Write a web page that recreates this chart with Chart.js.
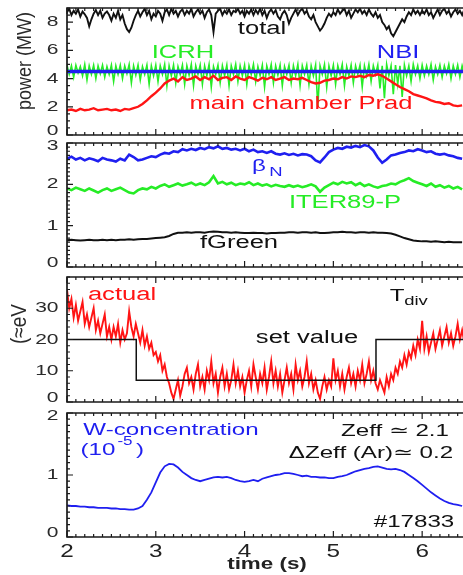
<!DOCTYPE html>
<html>
<head>
<meta charset="utf-8">
<script src="https://cdn.jsdelivr.net/npm/chart.js@4.4.1/dist/chart.umd.min.js"></script>
<style>
  html, body { margin: 0; padding: 0; background: #fff; }
  #wrap { position: relative; width: 463px; height: 575px; overflow: hidden; background: #fff; }
  #wrap canvas { position: absolute; left: 0; top: 0; }
</style>
</head>
<body>
<div id="wrap">
  <canvas id="c1" width="463" height="575"></canvas>
  <canvas id="c2" width="463" height="575"></canvas>
  <canvas id="c3" width="463" height="575"></canvas>
  <canvas id="c4" width="463" height="575"></canvas>
</div>
<script>
// coarse time base (s), one row = 0.5 s
const times = [
  2.00, 2.05, 2.10, 2.15, 2.20, 2.25, 2.30, 2.35, 2.40, 2.45,
  2.50, 2.55, 2.60, 2.65, 2.70, 2.75, 2.80, 2.85, 2.90, 2.95,
  3.00, 3.05, 3.10, 3.15, 3.20, 3.25, 3.30, 3.35, 3.40, 3.45,
  3.50, 3.55, 3.60, 3.65, 3.70, 3.75, 3.80, 3.85, 3.90, 3.95,
  4.00, 4.05, 4.10, 4.15, 4.20, 4.25, 4.30, 4.35, 4.40, 4.45,
  4.50, 4.55, 4.60, 4.65, 4.70, 4.75, 4.80, 4.85, 4.90, 4.95,
  5.00, 5.05, 5.10, 5.15, 5.20, 5.25, 5.30, 5.35, 5.40, 5.45,
  5.50, 5.55, 5.60, 5.65, 5.70, 5.75, 5.80, 5.85, 5.90, 5.95,
  6.00, 6.05, 6.10, 6.15, 6.20, 6.25, 6.30, 6.35, 6.40, 6.45
];
// fine time base (s) for the noisiest traces, one row = 0.5 s
const fineTimes = [
  2.000, 2.025, 2.050, 2.075, 2.100, 2.125, 2.150, 2.175, 2.200, 2.225, 2.250, 2.275, 2.300, 2.325, 2.350, 2.375, 2.400, 2.425, 2.450, 2.475,
  2.500, 2.525, 2.550, 2.575, 2.600, 2.625, 2.650, 2.675, 2.700, 2.725, 2.750, 2.775, 2.800, 2.825, 2.850, 2.875, 2.900, 2.925, 2.950, 2.975,
  3.000, 3.025, 3.050, 3.075, 3.100, 3.125, 3.150, 3.175, 3.200, 3.225, 3.250, 3.275, 3.300, 3.325, 3.350, 3.375, 3.400, 3.425, 3.450, 3.475,
  3.500, 3.525, 3.550, 3.575, 3.600, 3.625, 3.650, 3.675, 3.700, 3.725, 3.750, 3.775, 3.800, 3.825, 3.850, 3.875, 3.900, 3.925, 3.950, 3.975,
  4.000, 4.025, 4.050, 4.075, 4.100, 4.125, 4.150, 4.175, 4.200, 4.225, 4.250, 4.275, 4.300, 4.325, 4.350, 4.375, 4.400, 4.425, 4.450, 4.475,
  4.500, 4.525, 4.550, 4.575, 4.600, 4.625, 4.650, 4.675, 4.700, 4.725, 4.750, 4.775, 4.800, 4.825, 4.850, 4.875, 4.900, 4.925, 4.950, 4.975,
  5.000, 5.025, 5.050, 5.075, 5.100, 5.125, 5.150, 5.175, 5.200, 5.225, 5.250, 5.275, 5.300, 5.325, 5.350, 5.375, 5.400, 5.425, 5.450, 5.475,
  5.500, 5.525, 5.550, 5.575, 5.600, 5.625, 5.650, 5.675, 5.700, 5.725, 5.750, 5.775, 5.800, 5.825, 5.850, 5.875, 5.900, 5.925, 5.950, 5.975,
  6.000, 6.025, 6.050, 6.075, 6.100, 6.125, 6.150, 6.175, 6.200, 6.225, 6.250, 6.275, 6.300, 6.325, 6.350, 6.375, 6.400, 6.425, 6.450, 6.475
];

// panel 1: power (MW)
const totalPower = [
  8.7, 8.95, 8.5, 8.8, 8.6, 8.9, 8.4, 8.75, 8.55, 8.3, 7.7, 8.2, 8.6, 8.85, 8.5, 8.8, 8.3, 8.6, 8.75, 8.5,
  8.1, 8.6, 8.3, 8.8, 8.2, 8.5, 7.9, 7.5, 7.3, 7.6, 8.1, 8.5, 8.8, 8.4, 8.7, 8.95, 8.5, 8.8, 8.2, 8.6,
  8.4, 8.8, 8.6, 8.1, 8.7, 8.9, 8.5, 8.95, 8.6, 8.8, 8.4, 8.75, 8.9, 8.5, 8.8, 8.6, 8.95, 8.4, 8.7, 8.9,
  8.6, 8.8, 8.3, 8.7, 8.9, 8.5, 7.3, 8.6, 8.8, 8.95, 8.5, 8.8, 8.6, 8.9, 8.5, 8.8, 8.7, 8.95, 8.6, 8.8,
  8.4, 8.8, 8.6, 8.9, 8.5, 8.85, 8.6, 8.95, 8.5, 8.8, 8.3, 8.7, 8.9, 8.6, 8.85, 8.4, 8.2, 8.6, 8.8, 8.5,
  7.9, 8.3, 8.6, 8.9, 8.5, 8.8, 8.95, 8.6, 8.8, 8.4, 8.2, 8.5, 8.0, 7.7, 7.4, 7.6, 7.9, 8.3, 8.6, 8.4,
  8.7, 8.5, 8.9, 8.6, 8.8, 8.95, 8.5, 8.8, 8.3, 8.6, 8.9, 8.7, 8.95, 8.6, 8.8, 8.5, 8.9, 8.6, 8.4, 8.7,
  8.3, 8.5, 8.0, 7.8, 7.5, 7.7, 7.2, 7.0, 7.3, 7.6, 7.9, 8.2, 8.0, 8.4, 8.7, 8.5, 8.9, 8.6, 8.8, 8.5,
  8.8, 8.6, 8.9, 8.5, 8.7, 8.3, 8.6, 8.9, 8.5, 8.8, 8.95, 8.6, 8.8, 8.4, 8.7, 8.9, 8.6, 8.8, 8.5, 8.9
];
const icrhPower = [
  4.95, 4.3, 4.9, 4.1, 4.95, 4.4, 4.85, 4.2, 5.0, 3.9, 4.9, 4.3, 4.95, 4.0, 4.9, 4.35, 4.95, 4.1, 4.85, 4.3,
  4.95, 3.8, 4.9, 4.3, 4.95, 4.0, 4.9, 4.35, 5.0, 3.7, 4.9, 4.25, 4.95, 3.9, 4.85, 4.3, 4.95, 3.6, 4.9, 4.2,
  4.95, 3.8, 4.9, 4.3, 5.0, 3.5, 4.9, 4.2, 4.95, 3.7, 4.85, 4.3, 4.95, 3.6, 4.9, 4.25, 5.0, 3.5, 4.9, 4.3,
  4.95, 3.6, 4.9, 4.2, 5.0, 3.4, 4.85, 4.3, 4.95, 3.7, 4.9, 4.2, 4.95, 3.5, 4.9, 4.3, 5.0, 3.8, 4.9, 4.2,
  4.95, 3.6, 4.9, 4.3, 5.0, 3.8, 4.85, 4.2, 4.95, 3.4, 4.9, 4.3, 5.0, 3.7, 4.9, 4.25, 4.95, 3.5, 4.85, 4.3,
  4.95, 3.7, 4.9, 4.2, 5.0, 3.5, 4.9, 4.3, 4.95, 3.6, 4.9, 4.2, 4.95, 2.0, 4.9, 4.3, 5.0, 3.4, 4.9, 4.2,
  4.95, 3.6, 4.9, 4.3, 5.0, 3.5, 4.85, 4.2, 4.95, 3.7, 4.9, 4.3, 4.95, 3.4, 4.9, 4.2, 5.0, 3.8, 4.9, 4.3,
  4.95, 3.3, 4.9, 2.6, 5.0, 4.2, 4.9, 2.9, 4.95, 3.6, 4.9, 2.7, 4.95, 4.2, 4.9, 3.8, 5.0, 4.3, 4.9, 4.0,
  4.95, 4.2, 4.9, 4.3, 5.0, 3.9, 4.85, 4.3, 4.95, 4.1, 4.9, 4.35, 5.0, 4.0, 4.9, 4.3, 4.95, 4.1, 4.9, 4.3
];
const nbiTimes = [2.0, 6.46];
const nbiPower = [4.5, 4.5];
const pradPower = [
  1.75, 1.8, 1.7, 1.85, 1.75, 1.8, 1.9, 1.75, 1.8, 1.85,
  1.75, 1.8, 1.7, 1.85, 1.8, 1.9, 2.0, 2.2, 2.45, 2.75,
  3.0, 3.3, 3.65, 3.85, 4.0, 3.8, 4.1, 3.9, 4.0, 4.15,
  3.9, 4.1, 3.95, 4.2, 3.9, 4.05, 4.1, 3.9, 4.15, 4.0,
  3.9, 4.1, 4.0, 3.85, 4.05, 3.95, 4.1, 3.9, 4.0, 4.1,
  3.9, 4.0, 3.95, 4.05, 3.9, 3.75, 3.65, 3.7, 3.85, 3.9,
  4.0, 3.95, 4.1, 4.0, 4.15, 4.1, 4.2, 4.1, 4.25, 4.2,
  4.3, 4.2, 4.0, 3.8, 3.6, 3.4, 3.25, 3.1, 2.9, 2.8,
  2.7, 2.6, 2.45, 2.35, 2.3, 2.2, 2.25, 2.1, 2.05, 2.1
];

// panel 2: beta_N, ITER89-P, fGreen
const betaN = [
  2.62, 2.67, 2.6, 2.64, 2.58, 2.63, 2.6, 2.56, 2.64, 2.6,
  2.58, 2.55, 2.62, 2.58, 2.72, 2.66, 2.58, 2.6, 2.64, 2.68,
  2.66, 2.72, 2.76, 2.74, 2.8, 2.78, 2.85, 2.82, 2.86, 2.83,
  2.88, 2.85, 2.9, 2.87, 2.92, 2.86, 2.88, 2.84, 2.86, 2.82,
  2.86, 2.8, 2.84, 2.78, 2.8, 2.76, 2.8, 2.74, 2.72, 2.75,
  2.71, 2.74, 2.7, 2.73, 2.72, 2.68, 2.58, 2.53, 2.65, 2.78,
  2.84, 2.88, 2.86, 2.91, 2.89, 2.93, 2.9, 2.95, 2.92, 2.82,
  2.65, 2.52, 2.6, 2.7, 2.72, 2.76, 2.78, 2.82, 2.8, 2.85,
  2.82, 2.78, 2.8, 2.74, 2.72, 2.74, 2.7, 2.68, 2.64, 2.62
];
const iter89P = [
  1.9, 1.86, 1.92, 1.88, 1.84, 1.9, 1.85, 1.8, 1.86, 1.9,
  1.84, 1.88, 1.92, 1.86, 1.8, 1.78, 1.86, 1.9, 1.88, 1.94,
  1.9, 1.96, 2.0, 1.94, 1.98, 2.02, 1.97, 2.0, 2.04, 1.98,
  2.02, 1.98, 2.05, 2.2, 2.02, 2.06, 2.0, 2.04, 1.98, 2.02,
  2.0, 2.05, 1.98, 2.02, 1.97, 2.0, 1.95, 1.99, 1.96, 1.94,
  1.98, 1.94, 1.97, 1.93, 1.96, 2.0, 1.95, 1.82, 1.92, 1.98,
  2.04, 2.0, 2.06, 2.02, 2.05, 1.98, 2.03, 1.96, 2.0, 1.95,
  1.92, 1.96, 1.98, 2.02, 2.0, 2.06, 2.1, 2.15, 2.08, 2.04,
  2.0, 1.96, 2.02, 1.94, 1.98, 1.92, 1.96, 1.9, 1.94, 1.88
];
const fGreen = [
  0.65, 0.66, 0.65, 0.64, 0.65, 0.66, 0.65, 0.65, 0.66, 0.65,
  0.66, 0.65, 0.66, 0.66, 0.67, 0.66, 0.67, 0.68, 0.68, 0.69,
  0.7, 0.71, 0.72, 0.75, 0.8, 0.83, 0.83, 0.84, 0.83, 0.84,
  0.84, 0.83, 0.85, 0.86, 0.85, 0.84, 0.84, 0.83, 0.84, 0.83,
  0.82, 0.82, 0.83, 0.82, 0.82, 0.81, 0.82, 0.82, 0.83, 0.83,
  0.84, 0.84, 0.83, 0.84, 0.84, 0.83, 0.84, 0.82, 0.82, 0.83,
  0.84, 0.84, 0.85, 0.84, 0.84, 0.83, 0.84, 0.84, 0.83, 0.84,
  0.83, 0.83, 0.82, 0.81, 0.78, 0.74, 0.7, 0.67, 0.64, 0.63,
  0.62, 0.62, 0.61, 0.62, 0.61, 0.6, 0.61, 0.6, 0.6, 0.6
];

// panel 3: divertor temperature (eV)
const tdivActual = [
  36, 30, 33, 27, 31, 26, 29, 32, 25, 28, 24, 27, 30, 23, 26, 22, 25, 28, 21, 24,
  20, 24, 21, 25, 19, 23, 20, 22, 29, 24, 21, 25, 22, 19, 23, 18, 21, 17, 19, 15,
  16, 13, 15, 10, 12, 8, 6, 3, 1, 4, 7, 2, 5, 9, 11, 6, 8, 4, 9, 12,
  5, 8, 4, 10, 7, 13, 6, 9, 3, 8, 11, 5, 9, 4, 7, 12, 6, 10, 5, 8,
  3, 7, 10, 5, 12, 8, 4, 9, 6, 11, 4, 8, 13, 6, 10, 5, 9, 3, 7, 11,
  6, 9, 4, 12, 7, 10, 5, 8, 13, 6, 9, 4, 7, 3, 1, 5, 8, 4, 7, 5,
  14, 7, 10, 5, 9, 4, 8, 11, 6, 9, 5, 10, 7, 12, 6, 9, 13, 7, 10, 6,
  4, 7, 5, 3, 8, 5, 9, 7, 11, 9, 13, 11, 15, 12, 16, 14, 18, 15, 20, 17,
  26, 17, 21, 16, 19, 22, 17, 20, 23, 18, 21, 24, 19, 22, 18, 21, 25, 20, 23, 19
];
const setTimes = [2.0, 2.78, 2.78, 5.48, 5.48, 6.46];
const setValue = [20, 20, 7, 7, 20, 20];

// panel 4: W concentration (1e-5)
const wConc = [
  0.51, 0.5, 0.5, 0.49, 0.49, 0.48, 0.48, 0.47, 0.47, 0.47,
  0.46, 0.46, 0.45, 0.45, 0.44, 0.44, 0.46, 0.5, 0.6, 0.72,
  0.88, 1.04, 1.14, 1.18, 1.17, 1.12, 1.05, 1.0, 0.95, 0.92,
  0.9, 0.92, 0.94, 0.96, 0.97, 0.96, 0.97, 0.95, 0.92, 0.9,
  0.89, 0.9, 0.92, 0.9, 0.94, 0.96, 0.98, 1.0, 1.01, 1.03,
  1.03, 1.02, 1.0, 0.98, 0.99, 0.97, 0.97, 0.96, 0.96, 0.95,
  0.95, 0.97, 0.98, 1.0, 1.03, 1.06, 1.08, 1.1, 1.11, 1.13,
  1.14, 1.12, 1.1, 1.09, 1.1, 1.08, 1.05, 1.0, 0.95, 0.9,
  0.84, 0.78, 0.72, 0.67, 0.62, 0.58, 0.55, 0.53, 0.52, 0.5
];

// tick labels
const timeTicks = [2, 3, 4, 5, 6];
const powerTicks = [0, 2, 4, 6, 8];
const betaTicks = [0, 1, 2, 3];
const tdivTicks = [0, 10, 20, 30];
const wTicks = [0, 1, 2];

const RED = '#ff1414', GREEN = '#26ec26', BLUE = '#1f1ff0', BLACK = '#111';
const FONT = '"Liberation Sans", Arial, sans-serif';

function txt(ctx, s, x, y, o) {
  ctx.save();
  ctx.font = (o.bold ? 'bold ' : '') + (o.size || 18) + 'px ' + FONT;
  ctx.fillStyle = o.color || BLACK;
  ctx.textAlign = o.align || 'center';
  ctx.textBaseline = 'middle';
  ctx.translate(x, y);
  ctx.scale(o.sx || 1.42, 1);
  if (o.rot) ctx.rotate(o.rot);
  ctx.fillText(s, 0, 0);
  ctx.restore();
}

// frame, inward ticks and all text of one panel
const decor = {
  id: 'decor',
  afterDraw(chart, args, o) {
    const { ctx, chartArea: a } = chart;
    const x = chart.scales.x, y = chart.scales.y;
    ctx.save();
    ctx.strokeStyle = '#1a1a1a';
    ctx.lineWidth = 1.7;
    ctx.beginPath();
    ctx.moveTo(a.right + 2, a.top);
    ctx.lineTo(a.left, a.top);
    ctx.lineTo(a.left, a.bottom);
    ctx.lineTo(a.right + 2, a.bottom);
    ctx.stroke();

    ctx.lineWidth = 1.2;
    ctx.beginPath();
    for (let v = x.min; v <= x.max + 1e-6; v += 0.1) {
      const px = x.getPixelForValue(v);
      const len = Math.abs(v - Math.round(v)) < 1e-6 ? 6 : 3;
      ctx.moveTo(px, a.bottom); ctx.lineTo(px, a.bottom - len);
      ctx.moveTo(px, a.top); ctx.lineTo(px, a.top + len);
    }
    for (let v = y.min; v <= y.max + 1e-6; v += o.yMinor) {
      const py = y.getPixelForValue(v);
      const len = o.yTicks.some(t => Math.abs(t - v) < 1e-6) ? 6 : 3;
      ctx.moveTo(a.left, py); ctx.lineTo(a.left + len, py);
    }
    ctx.stroke();
    ctx.restore();

    o.yTicks.forEach(v => {
      const py = Math.min(Math.max(y.getPixelForValue(v), a.top + 3), a.bottom - 4);
      txt(ctx, String(v), 58.5, py, { size: 15, color: '#2a2a2a', align: 'right', sx: 1.4 });
    });
    if (o.yTitle) {
      txt(ctx, o.yTitle.t, o.yTitle.x, o.yTitle.y, { size: o.yTitle.size, color: '#2a2a2a', rot: -Math.PI / 2, sx: 1.15 });
    }
    if (o.xLabels) {
      o.xLabels.forEach(v => txt(ctx, String(v), x.getPixelForValue(v), 552, { size: 18, color: '#222', sx: 1.35 }));
      txt(ctx, 'time (s)', 267, 565, { size: 16, bold: true, color: '#222', sx: 1.4 });
    }
    (o.texts || []).forEach(t => txt(ctx, t[0], t[1], t[2], t[3]));
  }
};

const pts = (xs, ys) => xs.map((t, i) => ({ x: t, y: ys[i] }));
const line = (data, color, w) => ({ data, borderColor: color, borderWidth: w, pointRadius: 0, tension: 0, fill: false });

function panel(id, top, bottom, yMin, yMax, datasets, decorOpts) {
  return new Chart(document.getElementById(id), {
    type: 'line',
    data: { datasets },
    options: {
      responsive: false,
      animation: false,
      events: [],
      layout: { padding: { left: 67, right: 0, top: top, bottom: 575 - bottom } },
      scales: {
        x: { type: 'linear', min: 2, max: 6.46, display: false },
        y: { type: 'linear', min: yMin, max: yMax, display: false }
      },
      plugins: { legend: { display: false }, tooltip: { enabled: false }, decor: decorOpts }
    },
    plugins: [decor]
  });
}

panel('c1', 8, 135, 0, 9, [
  line(pts(times, pradPower), RED, 2.4),
  line(pts(nbiTimes, nbiPower), BLUE, 3.5),
  line(pts(fineTimes, totalPower), BLACK, 1.9),
  line(pts(fineTimes, icrhPower), GREEN, 1.6)
], {
  yTicks: powerTicks, yMinor: 0.5,
  yTitle: { t: 'power (MW)', x: 25, y: 61, size: 18 },
  texts: [
    ['total', 262, 29, { color: BLACK }],
    ['ICRH', 183, 53, { color: GREEN }],
    ['NBI', 398, 53, { color: BLUE }],
    ['main chamber Prad', 301, 104, { color: RED }]
  ]
});

panel('c2', 143, 267, 0, 3, [
  line(pts(times, betaN), BLUE, 2.6),
  line(pts(times, iter89P), GREEN, 2.6),
  line(pts(times, fGreen), BLACK, 2)
], {
  yTicks: betaTicks, yMinor: 0.1,
  texts: [
    ['β', 259, 166, { color: BLUE, size: 17 }],
    ['N', 276, 172, { color: BLUE, size: 13 }],
    ['ITER89-P', 345, 203, { color: GREEN }],
    ['fGreen', 239, 243, { color: BLACK }]
  ]
});

panel('c3', 277, 402, 0, 40, [
  line(pts(setTimes, setValue), BLACK, 1.5),
  line(pts(fineTimes, tdivActual), RED, 1.9)
], {
  yTicks: tdivTicks, yMinor: 2,
  yTitle: { t: '(≈eV', x: 20, y: 324, size: 19 },
  texts: [
    ['actual', 122, 295, { color: RED }],
    ['T', 397, 296, { color: BLACK, size: 17 }],
    ['div', 416, 301, { color: BLACK, size: 13 }],
    ['set value', 307, 338, { color: BLACK }]
  ]
});

panel('c4', 413, 537, 0, 2, [
  line(pts(times, wConc), BLUE, 1.8)
], {
  yTicks: wTicks, yMinor: 0.1,
  xLabels: timeTicks,
  texts: [
    ['W-concentration', 171, 430, { color: BLUE, size: 17 }],
    ['(10', 98, 450, { color: BLUE, size: 17 }],
    ['-5', 125, 442, { color: BLUE, size: 12 }],
    [')', 140, 450, { color: BLUE, size: 17 }],
    ['Zeff ≃ 2.1', 395, 431, { color: BLACK, size: 17 }],
    ['ΔZeff (Ar)≃ 0.2', 371, 453, { color: BLACK, size: 17 }],
    ['#17833', 414, 522, { color: BLACK, size: 17 }]
  ]
});
</script>
</body>
</html>
